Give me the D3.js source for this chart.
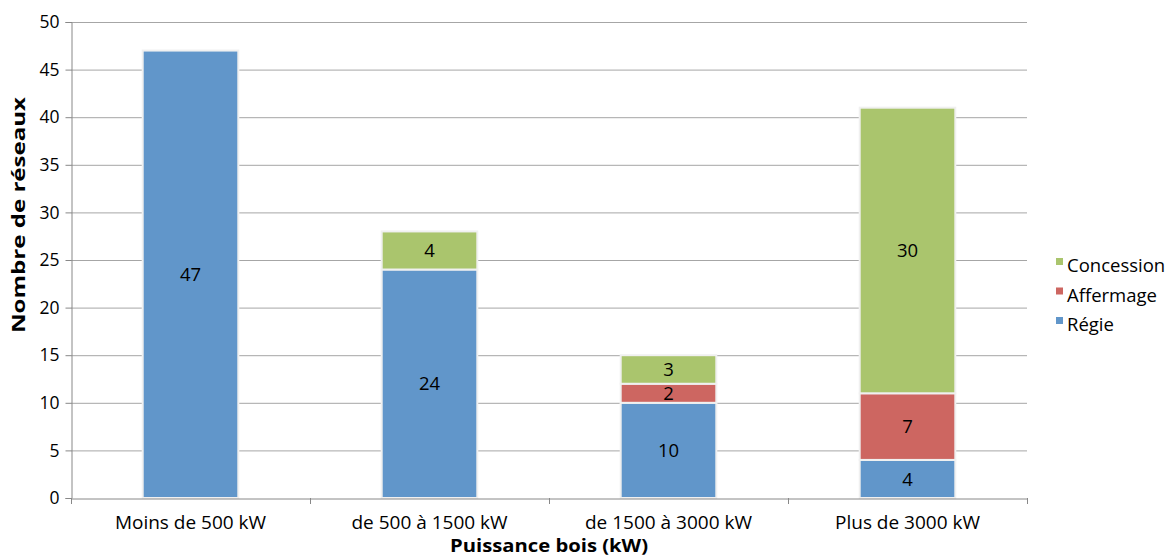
<!DOCTYPE html>
<html><head><meta charset="utf-8">
<script src="https://cdn.jsdelivr.net/npm/d3@7"></script>
<style>body{margin:0;background:#fff}svg{display:block;font-family:"Open Sans","Noto Sans",sans-serif}</style>
</head><body><svg id="c" width="1169" height="557"></svg>
<script>
const categories = ["Moins de 500 kW", "de 500 à 1500 kW", "de 1500 à 3000 kW", "Plus de 3000 kW"];
const seriesNames = ["Régie", "Affermage", "Concession"];
const regie = [47, 24, 10, 4];
const affermage = [0, 0, 2, 7];
const concession = [0, 4, 3, 30];
const yTicks = [0, 5, 10, 15, 20, 25, 30, 35, 40, 45, 50];
const colors = ["#6196CA", "#CD6661", "#AAC56D"];

const FONT = "'Open Sans','Noto Sans',sans-serif";
const svg = d3.select("#c");
const L = 71, R = 1027, T = 22, B = 498;
const x = d3.scaleBand().domain(categories).range([L, R]).paddingInner(0.6).paddingOuter(0.3);
const y = d3.scaleLinear().domain([0, 50]).range([B, T]);

// gridlines
svg.append("g").selectAll("line").data(yTicks.filter(d => d > 0)).join("line")
  .attr("x1", L).attr("x2", R).attr("y1", d => y(d) + 0.5).attr("y2", d => y(d) + 0.5)
  .attr("stroke", "#a6a6a6").attr("stroke-width", 1);

// stacked data
const table = categories.map((c, i) => ({cat: c, "Régie": regie[i], "Affermage": affermage[i], "Concession": concession[i]}));
const stack = d3.stack().keys(seriesNames)(table);

const g = svg.append("g");
stack.forEach((s, si) => {
  g.append("g").selectAll("rect").data(s.filter(d => d[1] - d[0] > 0)).join("rect")
    .attr("x", d => x(d.data.cat)).attr("width", x.bandwidth())
    .attr("y", d => y(d[1])).attr("height", d => y(d[0]) - y(d[1]))
    .attr("fill", colors[si]).attr("stroke", "#f0f0f0").attr("stroke-width", 2);
});
stack.forEach((s, si) => {
  g.append("g").selectAll("text").data(s.filter(d => d[1] - d[0] > 0)).join("text")
    .attr("x", d => x(d.data.cat) + x.bandwidth() / 2)
    .attr("y", d => (y(d[0]) + y(d[1])) / 2)
    .attr("dy", "0.36em").attr("text-anchor", "middle")
    .attr("font-size", 18.5).attr("fill", "#000")
    .text(d => d[1] - d[0]);
});

// y axis
const ya = svg.append("g").attr("transform", `translate(${L + 0.5},0)`)
  .call(d3.axisLeft(y).tickValues(yTicks).tickSize(6).tickPadding(6).tickFormat(d3.format("d")));
ya.select(".domain").attr("stroke", "#888");
ya.selectAll(".tick line").attr("stroke", "#888");
ya.selectAll("text").attr("font-size", 17.5).attr("fill", "#000").attr("font-family", FONT);

// x axis
const xa = svg.append("g").attr("transform", `translate(0,${B + 0.5})`)
  .call(d3.axisBottom(x).tickSize(0).tickPadding(17));
xa.select(".domain").attr("stroke", "#888");
xa.selectAll("text").attr("font-size", 19).attr("fill", "#000").attr("font-family", FONT);
const bounds = d3.range(categories.length + 1).map(i => L + i * (R - L) / categories.length);
svg.append("g").selectAll("line").data(bounds).join("line")
  .attr("x1", d => d + 0.5).attr("x2", d => d + 0.5).attr("y1", B).attr("y2", B + 6)
  .attr("stroke", "#888");

// axis titles
svg.append("text").attr("x", 549).attr("y", 552).attr("text-anchor", "middle")
  .attr("font-size", 18.5).attr("font-weight", "bold")
  .attr("textLength", 198).attr("lengthAdjust", "spacingAndGlyphs").text("Puissance bois (kW)");
svg.append("text").attr("transform", `translate(25,215) rotate(-90)`).attr("text-anchor", "middle")
  .attr("font-size", 18.5).attr("font-weight", "bold")
  .attr("textLength", 236).attr("lengthAdjust", "spacingAndGlyphs").text("Nombre de réseaux");

// legend
const legendItems = ["Concession", "Affermage", "Régie"];
const lg = svg.append("g");
legendItems.forEach((n, i) => {
  const by = 272 + i * 29.5;
  lg.append("rect").attr("x", 1056).attr("y", by - 14).attr("width", 7).attr("height", 7)
    .attr("fill", colors[seriesNames.indexOf(n)]);
  lg.append("text").attr("x", 1067).attr("y", by).attr("font-size", 18.5).text(n);
});
</script></body></html>
